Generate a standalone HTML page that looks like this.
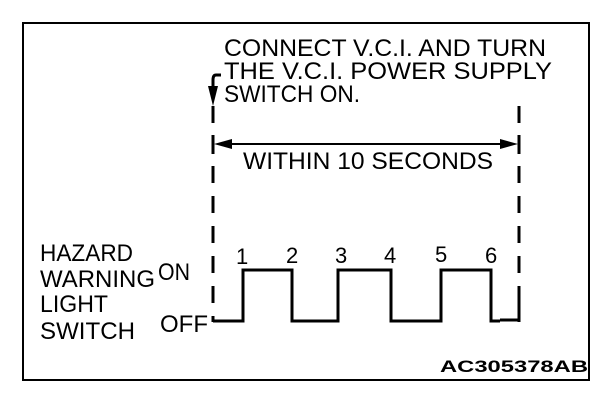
<!DOCTYPE html>
<html><head><style>
html,body{margin:0;padding:0;background:#fff;}
svg{display:block;}
text{font-family:"Liberation Sans",Arial,sans-serif;fill:#000;}
</style></head><body>
<svg width="608" height="400" viewBox="0 0 608 400">
<rect x="23" y="23" width="566" height="357" fill="none" stroke="#000" stroke-width="2"/>
<g font-size="24">
<text x="224" y="56" textLength="322" lengthAdjust="spacingAndGlyphs">CONNECT V.C.I. AND TURN</text>
<text x="224" y="79" textLength="328" lengthAdjust="spacingAndGlyphs">THE  V.C.I.  POWER SUPPLY</text>
<text x="224" y="102" textLength="136" lengthAdjust="spacingAndGlyphs">SWITCH ON.</text>
<text x="243" y="169" textLength="250" lengthAdjust="spacingAndGlyphs">WITHIN 10 SECONDS</text>
<text x="40" y="261" textLength="93" lengthAdjust="spacingAndGlyphs">HAZARD</text>
<text x="40" y="287" textLength="115" lengthAdjust="spacingAndGlyphs">WARNING</text>
<text x="40" y="312" textLength="68" lengthAdjust="spacingAndGlyphs">LIGHT</text>
<text x="40" y="339" textLength="95" lengthAdjust="spacingAndGlyphs">SWITCH</text>
<text x="158" y="280" textLength="32" lengthAdjust="spacingAndGlyphs">ON</text>
<text x="160" y="332" textLength="48" lengthAdjust="spacingAndGlyphs">OFF</text>
</g>
<g font-size="22">
<text x="236" y="264">1</text>
<text x="286" y="263">2</text>
<text x="335" y="263">3</text>
<text x="384" y="263">4</text>
<text x="435" y="262">5</text>
<text x="485" y="263">6</text>
</g>
<text x="588" y="372" font-size="17" font-weight="bold" text-anchor="end" textLength="148" lengthAdjust="spacingAndGlyphs">AC305378AB</text>
<g stroke="#000" stroke-width="3" fill="none">
<path d="M221 75 H216 Q213 75 213 80 V92"/>
<line x1="213" y1="106" x2="213" y2="322" stroke-dasharray="17 13"/>
<line x1="519" y1="106" x2="519" y2="322" stroke-dasharray="17 13"/>
<line x1="213" y1="135" x2="213" y2="154"/>
<line x1="519" y1="135" x2="519" y2="154"/>
<line x1="222" y1="144" x2="510" y2="144" stroke-width="2"/>
<path d="M213 321 H243 V270 H292 V321 H338 V270 H391 V321 H441 V270 H491 V321 H500 M500 320 H519 V303"/>
</g>
<path d="M208 86 L213 106 L218 86 Z" fill="#000"/>
<path d="M214 144 L232 139 L232 149 Z" fill="#000"/>
<path d="M518 144 L500 139 L500 149 Z" fill="#000"/>
</svg>
</body></html>
